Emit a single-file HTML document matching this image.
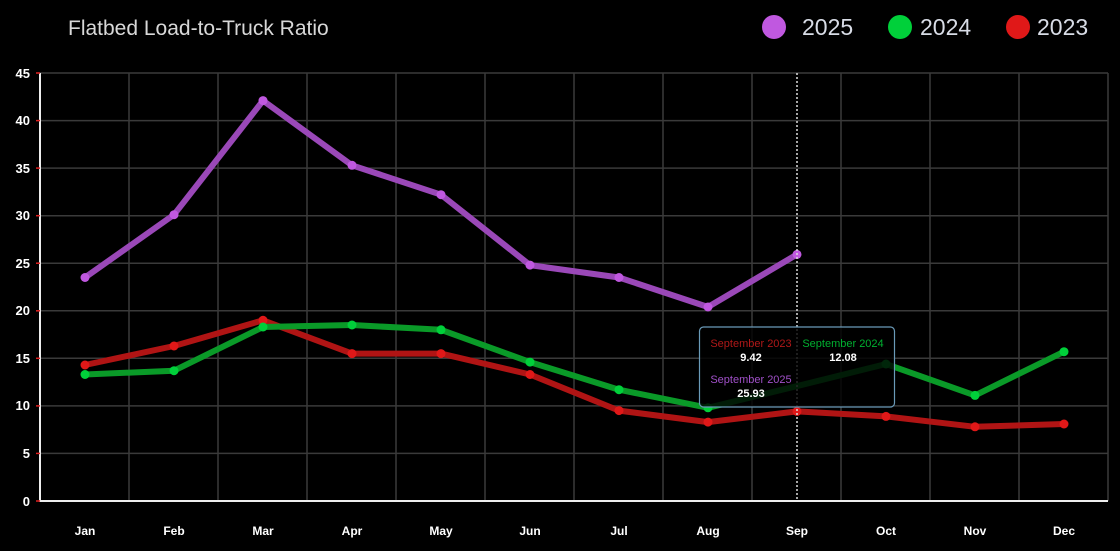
<!DOCTYPE html>
<html><head><meta charset="utf-8"><style>
html,body{margin:0;padding:0;background:#000;width:1120px;height:551px;overflow:hidden}
svg{display:block}
text{font-family:"Liberation Sans",sans-serif}
</style></head><body>
<svg width="1120" height="551" xmlns="http://www.w3.org/2000/svg">
<rect width="1120" height="551" fill="#000"/>
<text x="68" y="35" fill="#d8d8d8" font-size="21">Flatbed Load-to-Truck Ratio</text>
<circle cx="774" cy="27" r="12" fill="#c058e0"/><text x="802" y="35" fill="#d8dce6" font-size="23">2025</text>
<circle cx="900" cy="27" r="12" fill="#00d03a"/><text x="920" y="35" fill="#d8dce6" font-size="23">2024</text>
<circle cx="1018" cy="27" r="12" fill="#e01818"/><text x="1037" y="35" fill="#d8dce6" font-size="23">2023</text>
<g stroke="#3a3a3a" stroke-width="1.5">
<line x1="40" x2="1108" y1="73" y2="73"/><line x1="40" x2="1108" y1="120.6" y2="120.6"/><line x1="40" x2="1108" y1="168.1" y2="168.1"/><line x1="40" x2="1108" y1="215.7" y2="215.7"/><line x1="40" x2="1108" y1="263.2" y2="263.2"/><line x1="40" x2="1108" y1="310.8" y2="310.8"/><line x1="40" x2="1108" y1="358.3" y2="358.3"/><line x1="40" x2="1108" y1="405.9" y2="405.9"/><line x1="40" x2="1108" y1="453.4" y2="453.4"/>
<line x1="129" x2="129" y1="73" y2="501"/><line x1="218" x2="218" y1="73" y2="501"/><line x1="307" x2="307" y1="73" y2="501"/><line x1="396" x2="396" y1="73" y2="501"/><line x1="485" x2="485" y1="73" y2="501"/><line x1="574" x2="574" y1="73" y2="501"/><line x1="663" x2="663" y1="73" y2="501"/><line x1="752" x2="752" y1="73" y2="501"/><line x1="841" x2="841" y1="73" y2="501"/><line x1="930" x2="930" y1="73" y2="501"/><line x1="1019" x2="1019" y1="73" y2="501"/><line x1="1108" x2="1108" y1="73" y2="501"/>
</g>
<line x1="40" x2="40" y1="73" y2="502" stroke="#eee" stroke-width="2"/>
<line x1="40" x2="1108" y1="501" y2="501" stroke="#eee" stroke-width="2"/>
<g stroke="#e02020" stroke-width="1.5"><line x1="36" x2="40" y1="73" y2="73"/><line x1="36" x2="40" y1="120.6" y2="120.6"/><line x1="36" x2="40" y1="168.1" y2="168.1"/><line x1="36" x2="40" y1="215.7" y2="215.7"/><line x1="36" x2="40" y1="263.2" y2="263.2"/><line x1="36" x2="40" y1="310.8" y2="310.8"/><line x1="36" x2="40" y1="358.3" y2="358.3"/><line x1="36" x2="40" y1="405.9" y2="405.9"/><line x1="36" x2="40" y1="453.4" y2="453.4"/><line x1="36" x2="40" y1="501" y2="501"/></g>
<g fill="#fff" font-size="13" font-weight="bold" text-anchor="end">
<text x="30" y="78">45</text><text x="30" y="125">40</text><text x="30" y="173">35</text><text x="30" y="220">30</text><text x="30" y="268">25</text><text x="30" y="315">20</text><text x="30" y="363">15</text><text x="30" y="410">10</text><text x="30" y="458">5</text><text x="30" y="506">0</text>
</g>
<g fill="#fff" font-size="12" font-weight="bold" text-anchor="middle">
<text x="85" y="535">Jan</text><text x="174" y="535">Feb</text><text x="263" y="535">Mar</text><text x="352" y="535">Apr</text><text x="441" y="535">May</text><text x="530" y="535">Jun</text><text x="619" y="535">Jul</text><text x="708" y="535">Aug</text><text x="797" y="535">Sep</text><text x="886" y="535">Oct</text><text x="975" y="535">Nov</text><text x="1064" y="535">Dec</text>
</g>
<g fill="none" stroke-width="6" stroke-linejoin="round" stroke-linecap="round">
<polyline stroke="#b01414" points="85,365 174,346 263,320.3 352,353.6 441,353.6 530,374.5 619,410.6 708,422.1 797,411.4 886,416.4 975,426.8 1064,424"/>
<polyline stroke="#0a9a28" points="85,374.5 174,370.7 263,327 352,325 441,329.8 530,362.1 619,389.7 708,407.8 797,386.1 886,364 975,395.4 1064,351.7"/>
<polyline stroke="#9a48b8" points="85,277.5 174,214.7 263,100.6 352,165.3 441,194.7 530,265.1 619,277.5 708,307 797,254.4"/>
</g>
<g fill="#e01818"><circle cx="85" cy="365" r="4.5"/><circle cx="174" cy="346" r="4.5"/><circle cx="263" cy="320.3" r="4.5"/><circle cx="352" cy="353.6" r="4.5"/><circle cx="441" cy="353.6" r="4.5"/><circle cx="530" cy="374.5" r="4.5"/><circle cx="619" cy="410.6" r="4.5"/><circle cx="708" cy="422.1" r="4.5"/><circle cx="797" cy="411.4" r="4.5"/><circle cx="886" cy="416.4" r="4.5"/><circle cx="975" cy="426.8" r="4.5"/><circle cx="1064" cy="424" r="4.5"/></g>
<g fill="#00d03a"><circle cx="85" cy="374.5" r="4.5"/><circle cx="174" cy="370.7" r="4.5"/><circle cx="263" cy="327" r="4.5"/><circle cx="352" cy="325" r="4.5"/><circle cx="441" cy="329.8" r="4.5"/><circle cx="530" cy="362.1" r="4.5"/><circle cx="619" cy="389.7" r="4.5"/><circle cx="708" cy="407.8" r="4.5"/><circle cx="886" cy="364" r="4.5"/><circle cx="975" cy="395.4" r="4.5"/><circle cx="1064" cy="351.7" r="4.5"/></g>
<g fill="#c058e0"><circle cx="85" cy="277.5" r="4.5"/><circle cx="174" cy="214.7" r="4.5"/><circle cx="263" cy="100.6" r="4.5"/><circle cx="352" cy="165.3" r="4.5"/><circle cx="441" cy="194.7" r="4.5"/><circle cx="530" cy="265.1" r="4.5"/><circle cx="619" cy="277.5" r="4.5"/><circle cx="708" cy="307" r="4.5"/><circle cx="797" cy="254.4" r="4.5"/></g>
<line x1="797" x2="797" y1="73" y2="501" stroke="#ddd" stroke-width="1.5" stroke-dasharray="2,2"/>
<rect x="699.5" y="327" width="195" height="80" rx="4" fill="rgba(0,0,0,0.82)" stroke="#6a9ab8" stroke-width="1.2"/>
<g font-size="11" text-anchor="middle">
<text x="751" y="347" fill="#b01818">September 2023</text>
<text x="751" y="361" fill="#fff" font-weight="bold">9.42</text>
<text x="843" y="347" fill="#00b030">September 2024</text>
<text x="843" y="361" fill="#fff" font-weight="bold">12.08</text>
<text x="751" y="383" fill="#a050c8">September 2025</text>
<text x="751" y="397" fill="#fff" font-weight="bold">25.93</text>
</g>
</svg>
</body></html>
